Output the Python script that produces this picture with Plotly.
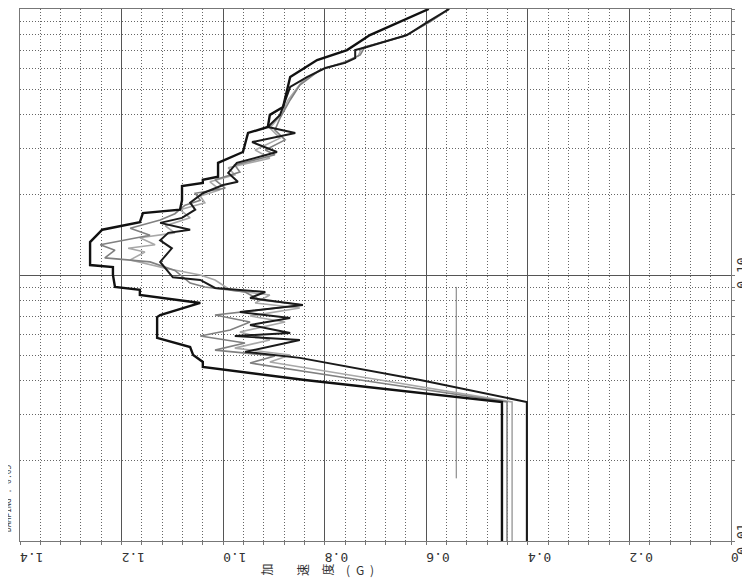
import plotly.graph_objects as go

# ---- data: response spectra (period in s, acceleration in G) ----
K1_T = [0.01, 0.0333, 0.0403, 0.0451, 0.0471, 0.0500, 0.0536, 0.0580, 0.0695, 0.0707,
        0.0785, 0.0820, 0.0841, 0.0879, 0.0902, 0.100, 0.107, 0.109, 0.133, 0.148,
        0.158, 0.171, 0.176, 0.191, 0.216, 0.222, 0.228, 0.234, 0.264, 0.290,
        0.342, 0.360, 0.400, 0.428, 0.555, 0.643, 0.701, 0.798, 1.0]
K1_A = [0.451, 0.451, 0.839, 1.040, 1.040, 1.059, 1.065, 1.130, 1.130, 1.124,
        1.045, 1.118, 1.164, 1.164, 1.213, 1.217, 1.217, 1.262, 1.262, 1.238,
        1.164, 1.158, 1.085, 1.081, 1.081, 1.040, 1.040, 1.010, 1.010, 0.961,
        0.951, 0.912, 0.908, 0.882, 0.868, 0.815, 0.756, 0.711, 0.595]

K2_T = [0.01, 0.0333, 0.0403, 0.0488, 0.0514, 0.0570, 0.0590, 0.0605, 0.0649, 0.0689,
        0.0726, 0.0771, 0.0820, 0.0863, 0.0894, 0.0958, 0.098, 0.112, 0.126, 0.135,
        0.144, 0.148, 0.157, 0.164, 0.176, 0.187, 0.203, 0.218, 0.224, 0.242,
        0.264, 0.290, 0.316, 0.342, 0.360, 0.400, 0.509, 0.555, 0.600, 0.627,
        0.654, 0.701, 0.720, 0.798, 0.894, 1.0]
K2_A = [0.402, 0.402, 0.612, 0.849, 0.957, 0.849, 0.977, 0.868, 0.947, 0.868,
        0.967, 0.843, 0.947, 0.917, 1.016, 1.045, 1.099, 1.124, 1.101, 1.124,
        1.108, 1.065, 1.124, 1.081, 1.055, 1.065, 1.040, 1.000, 0.971, 0.990,
        0.973, 0.894, 0.943, 0.858, 0.912, 0.888, 0.868, 0.835, 0.799, 0.760,
        0.740, 0.740, 0.717, 0.638, 0.597, 0.555]

G1_T = [0.01, 0.0333, 0.0403, 0.0467, 0.0496, 0.0522, 0.0555, 0.0590, 0.0621, 0.0666,
        0.0707, 0.0771, 0.0805, 0.0863, 0.0902, 0.0933, 0.104, 0.112, 0.116, 0.124,
        0.130, 0.135, 0.141, 0.150, 0.161, 0.170, 0.183, 0.191, 0.203, 0.212,
        0.228, 0.244, 0.259, 0.283, 0.295, 0.322, 0.351, 0.389, 0.455, 0.518,
        0.590, 0.632, 0.672, 0.720, 0.792, 0.894, 1.0]
G1_A = [0.441, 0.441, 0.730, 0.947, 0.898, 1.016, 0.957, 1.045, 0.986, 0.947,
        1.016, 0.843, 0.927, 0.957, 1.036, 1.065, 1.095, 1.144, 1.233, 1.213,
        1.242, 1.193, 1.144, 1.183, 1.124, 1.095, 1.075, 1.045, 1.055, 0.996,
        1.016, 0.967, 0.977, 0.898, 0.917, 0.878, 0.898, 0.888, 0.868, 0.849,
        0.809, 0.760, 0.730, 0.721, 0.642, 0.593, 0.555]

G2_T = [0.01, 0.0333, 0.0403, 0.0471, 0.0500, 0.0531, 0.0570, 0.0611, 0.0666, 0.0701,
        0.0751, 0.0785, 0.0841, 0.0879, 0.0958, 0.100, 0.106, 0.114, 0.122, 0.126,
        0.130, 0.138, 0.144, 0.153, 0.164, 0.176, 0.187, 0.198, 0.209, 0.224,
        0.238, 0.253, 0.275, 0.295, 0.327, 0.357, 0.396, 0.455, 0.532, 0.590,
        0.632, 0.666, 0.714, 0.792, 0.894, 1.0]
G2_A = [0.431, 0.431, 0.691, 0.908, 0.868, 0.977, 0.908, 0.967, 0.878, 0.947,
        0.849, 0.937, 0.908, 0.986, 1.016, 1.045, 1.114, 1.183, 1.154, 1.187,
        1.134, 1.164, 1.095, 1.114, 1.065, 1.085, 1.036, 1.045, 1.006, 1.026,
        0.977, 0.990, 0.908, 0.937, 0.888, 0.908, 0.888, 0.872, 0.845, 0.809,
        0.760, 0.734, 0.727, 0.642, 0.593, 0.555]

REF_T = [0.0172, 0.0902]
REF_A = [0.541, 0.541]

X_TICKS = [0.0, 0.2, 0.4, 0.6, 0.8, 1.0, 1.2, 1.4]
X_TICK_TEXT = ["0.0", "0.2", "0.4", "0.6", "0.8", "1.0", "1.2", "1.4"]
Y_TICKS = [0.01, 0.1, 1.0]
Y_TICK_TEXT = ["0.01", "0.10", "1.00"]
Y_MINOR = [0.02, 0.03, 0.04, 0.05, 0.06, 0.07, 0.08, 0.09,
           0.2, 0.3, 0.4, 0.5, 0.6, 0.7, 0.8, 0.9]
TITLE_CHARS = ["加", "速", "度", "(", "G", ")"]
NOTE_TEXT = "DAMPING : 0.05"

# ---- figure ----
fig = go.Figure()
fig.add_trace(go.Scatter(x=REF_A, y=REF_T, mode="lines",
                         line=dict(color="#777777", width=1), showlegend=False))
fig.add_trace(go.Scatter(x=G2_A, y=G2_T, mode="lines",
                         line=dict(color="#a8a8a8", width=1.6), showlegend=False))
fig.add_trace(go.Scatter(x=G1_A, y=G1_T, mode="lines",
                         line=dict(color="#808080", width=1.6), showlegend=False))
fig.add_trace(go.Scatter(x=K2_A, y=K2_T, mode="lines",
                         line=dict(color="#1a1a1a", width=2), showlegend=False))
fig.add_trace(go.Scatter(x=K1_A, y=K1_T, mode="lines",
                         line=dict(color="#111111", width=2.4), showlegend=False))

tick_font = dict(family="DejaVu Sans Mono", size=13, color="#333333")
fine_dot = "1px,2px"

# the page body adds an 8px offset, so margins are set to land the plot area
# at the same on-screen place as the reference
fig.update_layout(
    width=750, height=581, autosize=False,
    margin=dict(l=12, r=27, t=1, b=48, autoexpand=False),
    paper_bgcolor="white", plot_bgcolor="white",
    xaxis=dict(
        range=[1.4, 0], tickmode="array", tickvals=X_TICKS, ticktext=X_TICK_TEXT,
        tickangle=180, tickfont=tick_font, automargin=False, ticklabelstandoff=5,
        showgrid=True, gridcolor="#555555", gridwidth=1,
        minor=dict(dtick=0.04, tick0=0, showgrid=True, gridcolor="#666666",
                   griddash=fine_dot, gridwidth=1, ticks="outside", ticklen=3,
                   tickcolor="#777777"),
        ticks="outside", ticklen=3, tickcolor="#777777",
        showline=True, linecolor="#777777", linewidth=1, mirror=True,
        zeroline=False,
    ),
    yaxis=dict(
        type="log", range=[-2, 0], side="right", automargin=False,
        tickmode="array", tickvals=Y_TICKS, ticktext=Y_TICK_TEXT,
        tickangle=-90, tickfont=tick_font, ticklabelstandoff=-5,
        showgrid=True, gridcolor="#555555", gridwidth=1,
        minor=dict(tickmode="array", tickvals=Y_MINOR, showgrid=True,
                   gridcolor="#666666", griddash=fine_dot, gridwidth=1,
                   ticks="outside", ticklen=3, tickcolor="#777777"),
        ticks="outside", ticklen=3, tickcolor="#777777",
        showline=True, linecolor="#777777", linewidth=1, mirror=True,
        zeroline=False,
    ),
)

# axis title, characters set individually (vertical-writing style)
title_x = [0.347, 0.397, 0.433, 0.461, 0.478, 0.495]
title_angle = [-90, -90, -90, 0, 0, 0]
for ch, xp, ang in zip(TITLE_CHARS, title_x, title_angle):
    fig.add_annotation(text=ch, x=xp, y=-0.054, xref="paper", yref="paper",
                       xanchor="center", yanchor="middle", showarrow=False,
                       textangle=ang,
                       font=dict(family="Noto Sans CJK JP", size=12, color="#333333"))

fig.add_annotation(text=NOTE_TEXT, x=-0.016, y=0.08, xref="paper", yref="paper",
                   xanchor="center", yanchor="middle", showarrow=False, textangle=-90,
                   font=dict(family="DejaVu Sans Mono", size=8, color="#444444"))

# partially visible note box at top-left
fig.add_shape(type="line", xref="paper", yref="paper", x0=-0.021, x1=-0.021,
              y0=0.506, y1=1.02, line=dict(color="#888888", width=1, dash="dot"))
fig.add_shape(type="line", xref="paper", yref="paper", x0=-0.03, x1=-0.021,
              y0=0.506, y1=0.506, line=dict(color="#888888", width=1, dash="dot"))

fig.write_html("out.html")
